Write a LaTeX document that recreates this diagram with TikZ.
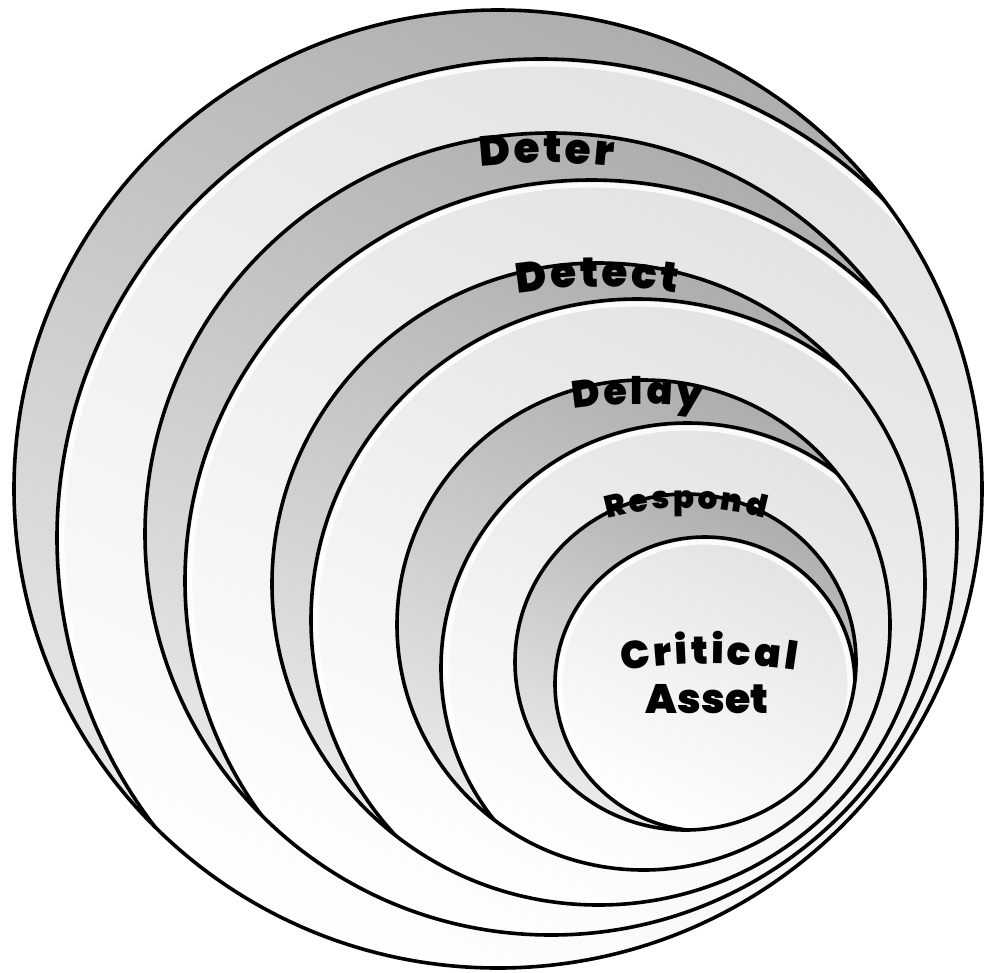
\documentclass[tikz,border=0pt]{standalone}
\usepackage{fontspec}
\usetikzlibrary{decorations.text,calc}
\IfFontExistsTF{Poppins Black}{\newfontfamily\lblfont{Poppins Black}}{%
  \IfFontExistsTF{Poppins ExtraBold}{\newfontfamily\lblfont{Poppins ExtraBold}}{%
    \newfontfamily\lblfont{DejaVu Sans}[UprightFont=* Bold]}}
\tikzset{
  ringline/.style={draw=black, line width=3.6pt},
  crescent/.style={top color=gray!64, bottom color=gray!16, shading angle=-25},
  interior/.style={top color=gray!22, bottom color=white, shading angle=-25},
  glint/.style={draw=white, line width=5pt, opacity=0.85},
  arclabel/.style n args={2}{decorate, decoration={text effects along path,
      text={#2}, text align=center, text effects/.cd, text along path,
      characters={font=#1, inner sep=0pt, anchor=base},
      character widths={font=#1, inner xsep=1.5pt, inner ysep=0pt}}}
}
\begin{document}
\begin{tikzpicture}[x=1pt, y=-1pt]
\useasboundingbox (0,0) rectangle (984,972);
\fill[white] (0,0) rectangle (984,972);
% ring centres: outer (cK) and inner (iK)
\coordinate (c1) at (498,489); \coordinate (i1) at (541,538);
\coordinate (c2) at (551,534); \coordinate (i2) at (591,581);
\coordinate (c3) at (598.5,584); \coordinate (i3) at (637.5,620);
\coordinate (c4) at (643.5,625); \coordinate (i4) at (687.5,668);
\coordinate (c5) at (685.5,662); \coordinate (i5) at (705,684);
% ring 1
\begin{scope}
  \clip (c1) ellipse [x radius=484pt, y radius=479pt];
  \shade[crescent] (c1) ellipse [x radius=484pt, y radius=479pt];
  \shade[interior] (i1) ellipse [x radius=484pt, y radius=479pt];
  \draw[glint] (i1) ellipse [x radius=479pt, y radius=474pt];
  \draw[ringline] (i1) ellipse [x radius=484pt, y radius=479pt];
\end{scope}
\draw[ringline] (c1) ellipse [x radius=484pt, y radius=479pt];
% ring 2
\begin{scope}
  \clip (c2) ellipse [x radius=406pt, y radius=401pt];
  \shade[crescent] (c2) ellipse [x radius=406pt, y radius=401pt];
  \shade[interior] (i2) ellipse [x radius=406pt, y radius=401pt];
  \draw[glint] (i2) ellipse [x radius=401pt, y radius=396pt];
  \draw[ringline] (i2) ellipse [x radius=406pt, y radius=401pt];
\end{scope}
\draw[ringline] (c2) ellipse [x radius=406pt, y radius=401pt];
% ring 3
\begin{scope}
  \clip (c3) ellipse [x radius=326.5pt, y radius=321pt];
  \shade[crescent] (c3) ellipse [x radius=326.5pt, y radius=321pt];
  \shade[interior] (i3) ellipse [x radius=326.5pt, y radius=321pt];
  \draw[glint] (i3) ellipse [x radius=321.5pt, y radius=316pt];
  \draw[ringline] (i3) ellipse [x radius=326.5pt, y radius=321pt];
\end{scope}
\draw[ringline] (c3) ellipse [x radius=326.5pt, y radius=321pt];
% ring 4
\begin{scope}
  \clip (c4) ellipse [x radius=246.5pt, y radius=245pt];
  \shade[crescent] (c4) ellipse [x radius=246.5pt, y radius=245pt];
  \shade[interior] (i4) ellipse [x radius=246.5pt, y radius=245pt];
  \draw[glint] (i4) ellipse [x radius=241.5pt, y radius=240pt];
  \draw[ringline] (i4) ellipse [x radius=246.5pt, y radius=245pt];
\end{scope}
\draw[ringline] (c4) ellipse [x radius=246.5pt, y radius=245pt];
% ring 5 and critical asset
\begin{scope}
  \clip (c5) ellipse [x radius=170.5pt, y radius=168pt];
  \shade[crescent] (c5) ellipse [x radius=170.5pt, y radius=168pt];
  \shade[interior] (i5) ellipse [x radius=150pt, y radius=147pt];
  \draw[glint] (i5) ellipse [x radius=145pt, y radius=142pt];
  \draw[ringline] (i5) ellipse [x radius=150pt, y radius=147pt];
\end{scope}
\draw[ringline] (c5) ellipse [x radius=170.5pt, y radius=168pt];
% labels
\path[arclabel={\lblfont\fontsize{42}{42}\selectfont}{Deter}]
  ($(547,763)+(110:600pt)$) arc[start angle=110, end angle=70, radius=600pt];
\path[arclabel={\lblfont\fontsize{42}{42}\selectfont}{Detect}]
  ($(597,787)+(112:500pt)$) arc[start angle=112, end angle=68, radius=500pt];
\path[arclabel={\lblfont\fontsize{38}{38}\selectfont}{Delay}]
  ($(637,804)+(115:400pt)$) arc[start angle=115, end angle=65, radius=400pt];
\path[arclabel={\lblfont\fontsize{31}{31}\selectfont}{Respond}]
  ($(686,808)+(120:300pt)$) arc[start angle=120, end angle=60, radius=300pt];
\path[arclabel={\lblfont\fontsize{39}{39}\selectfont}{Critical}]
  ($(709,1214)+(105:550pt)$) arc[start angle=105, end angle=75, radius=550pt];
\node[anchor=base, inner sep=0pt, font=\lblfont\fontsize{41}{41}\selectfont] (asset) at (707,713) {Asset};
\end{tikzpicture}
\end{document}
